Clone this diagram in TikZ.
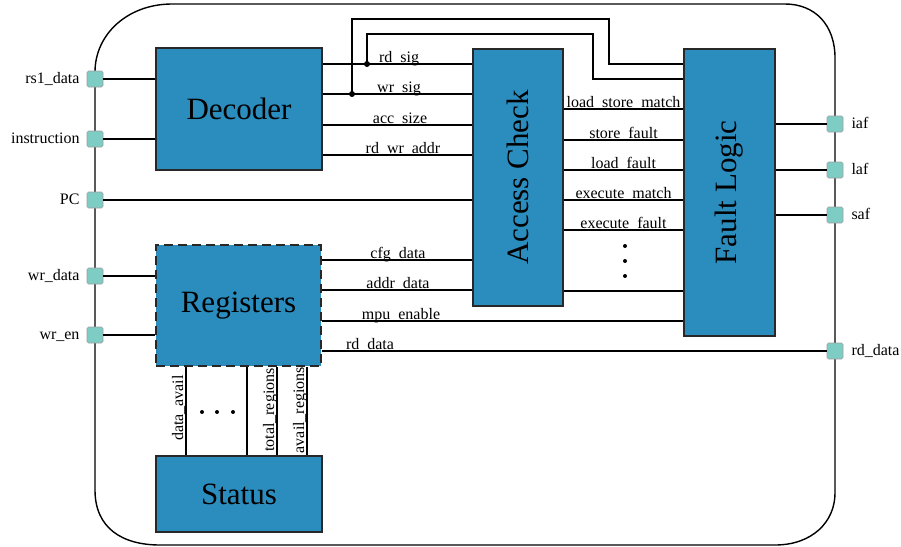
\documentclass[tikz,border=0pt]{standalone}
\usepackage{fontspec}
\setmainfont{Liberation Serif}
\usetikzlibrary{calc}
\definecolor{blockblue}{RGB}{43,140,190}
\definecolor{portteal}{RGB}{126,205,196}
\definecolor{edgegray}{RGB}{40,40,40}
\begin{document}
\begin{tikzpicture}[x=1pt,y=-1pt,
  block/.style={draw=edgegray, line width=1.2pt, fill=blockblue, inner sep=0pt,
    font=\fontsize{31}{36}\selectfont},
  bigtext/.style={font=\fontsize{31}{36}\selectfont, inner sep=0pt},
  port/.style={draw=gray!75, line width=0.6pt, fill=portteal, rounded corners=1.5pt,
    minimum size=16pt, inner sep=0pt},
  wire/.style={line width=1.4pt, draw=black},
  sig/.style={font=\fontsize{16}{18}\selectfont, inner sep=0pt, anchor=base},
  portlbl/.style={font=\fontsize{16}{18}\selectfont, inner sep=0pt},
  frame/.style={line width=1.4pt, draw=black}]
\useasboundingbox (0,0) rectangle (901,546);

% enclosing module outline
\draw[frame] (95,490) -- (95,72) .. controls (95,34) and (128,4) .. (172,4)
  -- (785,4) .. controls (815,4) and (835,25) .. (835,58)
  -- (835,493) .. controls (835,522) and (812,545) .. (775,545)
  -- (160,545) .. controls (122,545) and (95,528) .. (95,490) -- cycle;

% functional blocks
\node[block, minimum width=166pt, minimum height=122pt] (dec) at (239,109) {Decoder};
\node[block, dash pattern=on 9pt off 5pt, line width=1.5pt,
  minimum width=165pt, minimum height=121pt] (reg) at (238.5,305.5) {Registers};
\node[block, minimum width=90pt, minimum height=257pt] (ac) at (518,177.5) {};
\node[bigtext, rotate=90] (actext) at (ac.center) {Access Check};
\node[block, minimum width=91pt, minimum height=287pt] (fl) at (729.5,192.5) {};
\node[bigtext, rotate=90] (fltext) at (fl.center) {Fault Logic};
\node[block, minimum width=166pt, minimum height=76pt] (st) at (239,494) {Status};

% ports on the module boundary
\node[port] (prs) at (95,79) {};
\node[port] (pins) at (95,139) {};
\node[port] (ppc) at (95,200) {};
\node[port] (pwd) at (95,276) {};
\node[port] (pwe) at (95,335) {};
\node[port] (piaf) at (835,124) {};
\node[port] (plaf) at (835,170) {};
\node[port] (psaf) at (835,215) {};
\node[port] (prd) at (835,351) {};

\node[portlbl, anchor=base east] (lrs) at ($(prs.west)+(-7,4.5)$) {rs1\_data};
\node[portlbl, anchor=base east] (lins) at ($(pins.west)+(-7,4.5)$) {instruction};
\node[portlbl, anchor=base east] (lpc) at ($(ppc.west)+(-7,4.5)$) {PC};
\node[portlbl, anchor=base east] (lwd) at ($(pwd.west)+(-7,4.5)$) {wr\_data};
\node[portlbl, anchor=base east] (lwe) at ($(pwe.west)+(-7,4.5)$) {wr\_en};
\node[portlbl, anchor=base west] (liaf) at ($(piaf.east)+(8,4.5)$) {iaf};
\node[portlbl, anchor=base west] (llaf) at ($(plaf.east)+(8,4.5)$) {laf};
\node[portlbl, anchor=base west] (lsaf) at ($(psaf.east)+(8,4.5)$) {saf};
\node[portlbl, anchor=base west] (lrd) at ($(prd.east)+(8,4.5)$) {rd\_data};

% inputs
\draw[wire] (prs) -- (prs -| dec.west);
\draw[wire] (pins) -- (pins -| dec.west);
\draw[wire] (ppc) -- (ppc -| ac.west);
\draw[wire] (pwd) -- (pwd -| reg.west);
\draw[wire] (pwe) -- (pwe -| reg.west);

% decoder to access check
\draw[wire] (dec.east |- 0,64) -- (ac.west |- 0,64);
\draw[wire] (dec.east |- 0,94) -- (ac.west |- 0,94);
\draw[wire] (dec.east |- 0,125) -- (ac.west |- 0,125);
\draw[wire] (dec.east |- 0,155) -- (ac.west |- 0,155);
\node[sig] (lrdsig) at (399,62) {rd\_sig};
\node[sig] (lwrsig) at (399,92) {wr\_sig};
\node[sig] (lacc) at (400,123) {acc\_size};
\node[sig] (lrwa) at (403,153) {rd\_wr\_addr};

% read/write signals routed over to the fault logic
\coordinate (jrd) at (367,64);
\coordinate (jwr) at (352,94);
\draw[wire] (jwr) |- (609,19) |- (fl.west |- 0,64);
\draw[wire] (jrd) |- (593,34) |- (fl.west |- 0,79);
\fill (jrd) circle (3pt);
\fill (jwr) circle (3pt);

% access check to fault logic
\draw[wire] (ac.east |- 0,109) -- (fl.west |- 0,109);
\draw[wire] (ac.east |- 0,140) -- (fl.west |- 0,140);
\draw[wire] (ac.east |- 0,170) -- (fl.west |- 0,170);
\draw[wire] (ac.east |- 0,200) -- (fl.west |- 0,200);
\draw[wire] (ac.east |- 0,230) -- (fl.west |- 0,230);
\draw[wire] (ac.east |- 0,291) -- (fl.west |- 0,291);
\node[sig] (llsm) at (623.5,107) {load\_store\_match};
\node[sig] (lsf) at (623.5,138) {store\_fault};
\node[sig] (llf) at (623.5,168) {load\_fault};
\node[sig] (lem) at (623.5,198) {execute\_match};
\node[sig] (lef) at (623.5,228) {execute\_fault};
\fill (625,246) circle (2pt) (625,261) circle (2pt) (625,276) circle (2pt);

% register outputs
\draw[wire] (reg.east |- 0,260) -- (ac.west |- 0,260);
\draw[wire] (reg.east |- 0,290) -- (ac.west |- 0,290);
\draw[wire] (reg.east |- 0,321) -- (fl.west |- 0,321);
\draw[wire] (reg.east |- prd) -- (prd);
\node[sig] (lcfg) at (398,258) {cfg\_data};
\node[sig] (laddr) at (398,288) {addr\_data};
\node[sig] (lmpu) at (401,319) {mpu\_enable};
\node[sig] (lrdd) at (370,349) {rd\_data};

% fault outputs
\draw[wire] (fl.east |- piaf) -- (piaf);
\draw[wire] (fl.east |- plaf) -- (plaf);
\draw[wire] (fl.east |- psaf) -- (psaf);

% status bus
\draw[wire] (reg.south -| 186,0) -- (st.north -| 186,0);
\draw[wire] (reg.south -| 247,0) -- (st.north -| 247,0);
\draw[wire] (reg.south -| 277,0) -- (st.north -| 277,0);
\draw[wire] (reg.south -| 307,0) -- (st.north -| 307,0);
\node[sig, rotate=90] (lda) at (183,408) {data\_avail};
\node[sig, rotate=90] (ltr) at (274,410) {total\_regions};
\node[sig, rotate=90] (lar) at (304,410) {avail\_regions};
\fill (202,412) circle (2pt) (217,412) circle (2pt) (233,412) circle (2pt);
\end{tikzpicture}
\end{document}
